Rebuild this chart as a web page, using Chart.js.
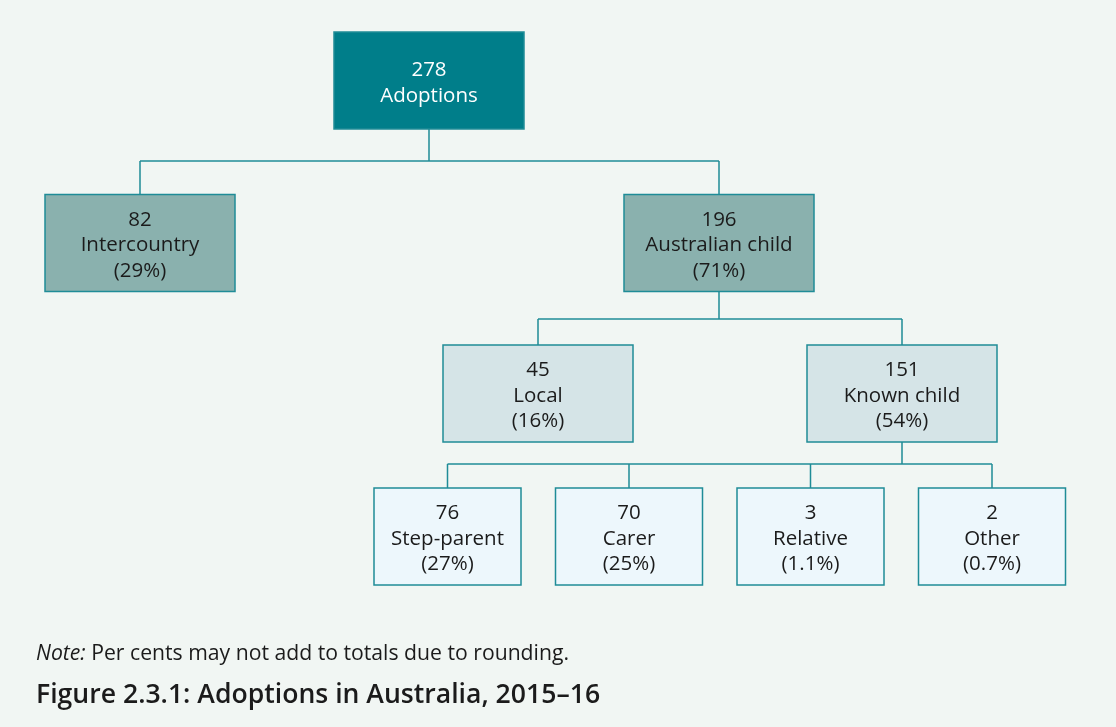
<!DOCTYPE html>
<html><head><meta charset="utf-8">
<script src="https://cdn.jsdelivr.net/npm/chart.js@4/dist/chart.umd.min.js"></script>
<style>html,body{margin:0;padding:0;background:#f1f6f3;}#wrap{width:1116px;height:727px;}</style>
</head><body><div id="wrap"><canvas id="c" width="1116" height="727"></canvas></div>
<script>
// ---- data ----
const nodeLabels = ['Adoptions','Intercountry','Australian child','Local','Known child','Step-parent','Carer','Relative','Other'];
const nodeValues = [278, 82, 196, 45, 151, 76, 70, 3, 2];
const nodePercents = [null, '29%', '71%', '16%', '54%', '27%', '25%', '1.1%', '0.7%'];
const nodeParents = [-1, 0, 0, 2, 2, 4, 4, 4, 4];
const nodeLevels = [0, 1, 1, 2, 2, 3, 3, 3, 3];
const noteLabel = 'Note:';
const noteText = ' Per cents may not add to totals due to rounding.';
const figureTitle = 'Figure 2.3.1: Adoptions in Australia, 2015\u201316';

// ---- layout (positions/styles) ----
const layout = {
  centerX: [429, 140, 719, 538, 902, 447.5, 629, 810.5, 992],
  levelWidth: [190, 190, 190, 147],
  levelTop: [32, 194.5, 345, 488],
  boxHeight: 97,
  busY: [161, 319, 464],
  fills: ['#007e8a', '#8ab1ae', '#d5e4e7', '#edf7fc'],
  text: ['#ffffff', '#1b1b1b', '#1b1b1b', '#1b1b1b'],
  stroke: '#1f8c97',
  font: '"Open Sans", "Noto Sans", sans-serif'
};

// connectors built from the tree structure
const segments = [];
const parentsSeen = [...new Set(nodeParents.filter(p => p >= 0))];
parentsSeen.forEach(p => {
  const kids = nodeParents.map((q, i) => q === p ? i : -1).filter(i => i >= 0);
  const lv = nodeLevels[p];
  const bus = layout.busY[lv];
  const px = layout.centerX[p];
  const pb = layout.levelTop[lv] + layout.boxHeight;
  segments.push([{x: px, y: pb}, {x: px, y: bus}]);
  const xs = kids.map(k => layout.centerX[k]);
  segments.push([{x: Math.min(...xs), y: bus}, {x: Math.max(...xs), y: bus}]);
  kids.forEach(k => segments.push([{x: layout.centerX[k], y: bus}, {x: layout.centerX[k], y: layout.levelTop[nodeLevels[k]]}]));
});

const datasets = segments.map(s => ({
  type: 'scatter', data: s, showLine: true, borderColor: layout.stroke, borderWidth: 1.5,
  pointRadius: 0, pointHoverRadius: 0, fill: false
}));
datasets.push({
  type: 'scatter', label: 'nodes',
  data: nodeValues.map((v, i) => ({x: layout.centerX[i], y: layout.levelTop[nodeLevels[i]] + layout.boxHeight / 2})),
  pointRadius: 0, pointHoverRadius: 0
});

const treePlugin = {
  id: 'tree',
  beforeDraw(chart) {
    const ctx = chart.ctx;
    ctx.save();
    ctx.fillStyle = '#f1f6f3';
    ctx.fillRect(0, 0, chart.width, chart.height);
    ctx.restore();
  },
  afterDatasetsDraw(chart) {
    const ctx = chart.ctx, xs = chart.scales.x, ys = chart.scales.y;
    ctx.save();
    nodeValues.forEach((v, i) => {
      const lv = nodeLevels[i];
      const w = layout.levelWidth[lv];
      const x0 = xs.getPixelForValue(layout.centerX[i] - w / 2);
      const x1 = xs.getPixelForValue(layout.centerX[i] + w / 2);
      const y0 = ys.getPixelForValue(layout.levelTop[lv]);
      const y1 = ys.getPixelForValue(layout.levelTop[lv] + layout.boxHeight);
      ctx.fillStyle = layout.fills[lv];
      ctx.fillRect(x0, y0, x1 - x0, y1 - y0);
      ctx.strokeStyle = layout.stroke;
      ctx.lineWidth = 1.5;
      ctx.strokeRect(x0, y0, x1 - x0, y1 - y0);
      const lines = [String(v), nodeLabels[i]];
      if (nodePercents[i]) lines.push('(' + nodePercents[i] + ')');
      const cx = (x0 + x1) / 2, cy = (y0 + y1) / 2;
      const lh = 25.5;
      ctx.fillStyle = layout.text[lv];
      ctx.font = '20.5px ' + layout.font;
      ctx.textAlign = 'center';
      ctx.textBaseline = 'middle';
      lines.forEach((t, k) => {
        ctx.fillText(t, cx, cy + (k - (lines.length - 1) / 2) * lh + 2.5);
      });
    });
    // note and title
    ctx.textAlign = 'left';
    ctx.textBaseline = 'alphabetic';
    ctx.fillStyle = '#1b1b1b';
    ctx.font = 'italic 21.2px ' + layout.font;
    ctx.fillText(noteLabel, 36, 660);
    const nw = ctx.measureText(noteLabel).width;
    ctx.font = '21.2px ' + layout.font;
    ctx.fillText(noteText, 36 + nw, 660);
    ctx.font = '600 26.6px ' + layout.font;
    ctx.fillText(figureTitle, 36, 703);
    ctx.restore();
  }
};

new Chart(document.getElementById('c'), {
  type: 'scatter',
  data: {datasets},
  options: {
    responsive: false, animation: false, devicePixelRatio: 1,
    layout: {padding: 0},
    plugins: {legend: {display: false}, tooltip: {enabled: false}, title: {display: false}},
    scales: {
      x: {type: 'linear', min: 0, max: 1116, display: false},
      y: {type: 'linear', min: 0, max: 727, reverse: true, display: false}
    }
  },
  plugins: [treePlugin]
});
</script>
</body></html>
